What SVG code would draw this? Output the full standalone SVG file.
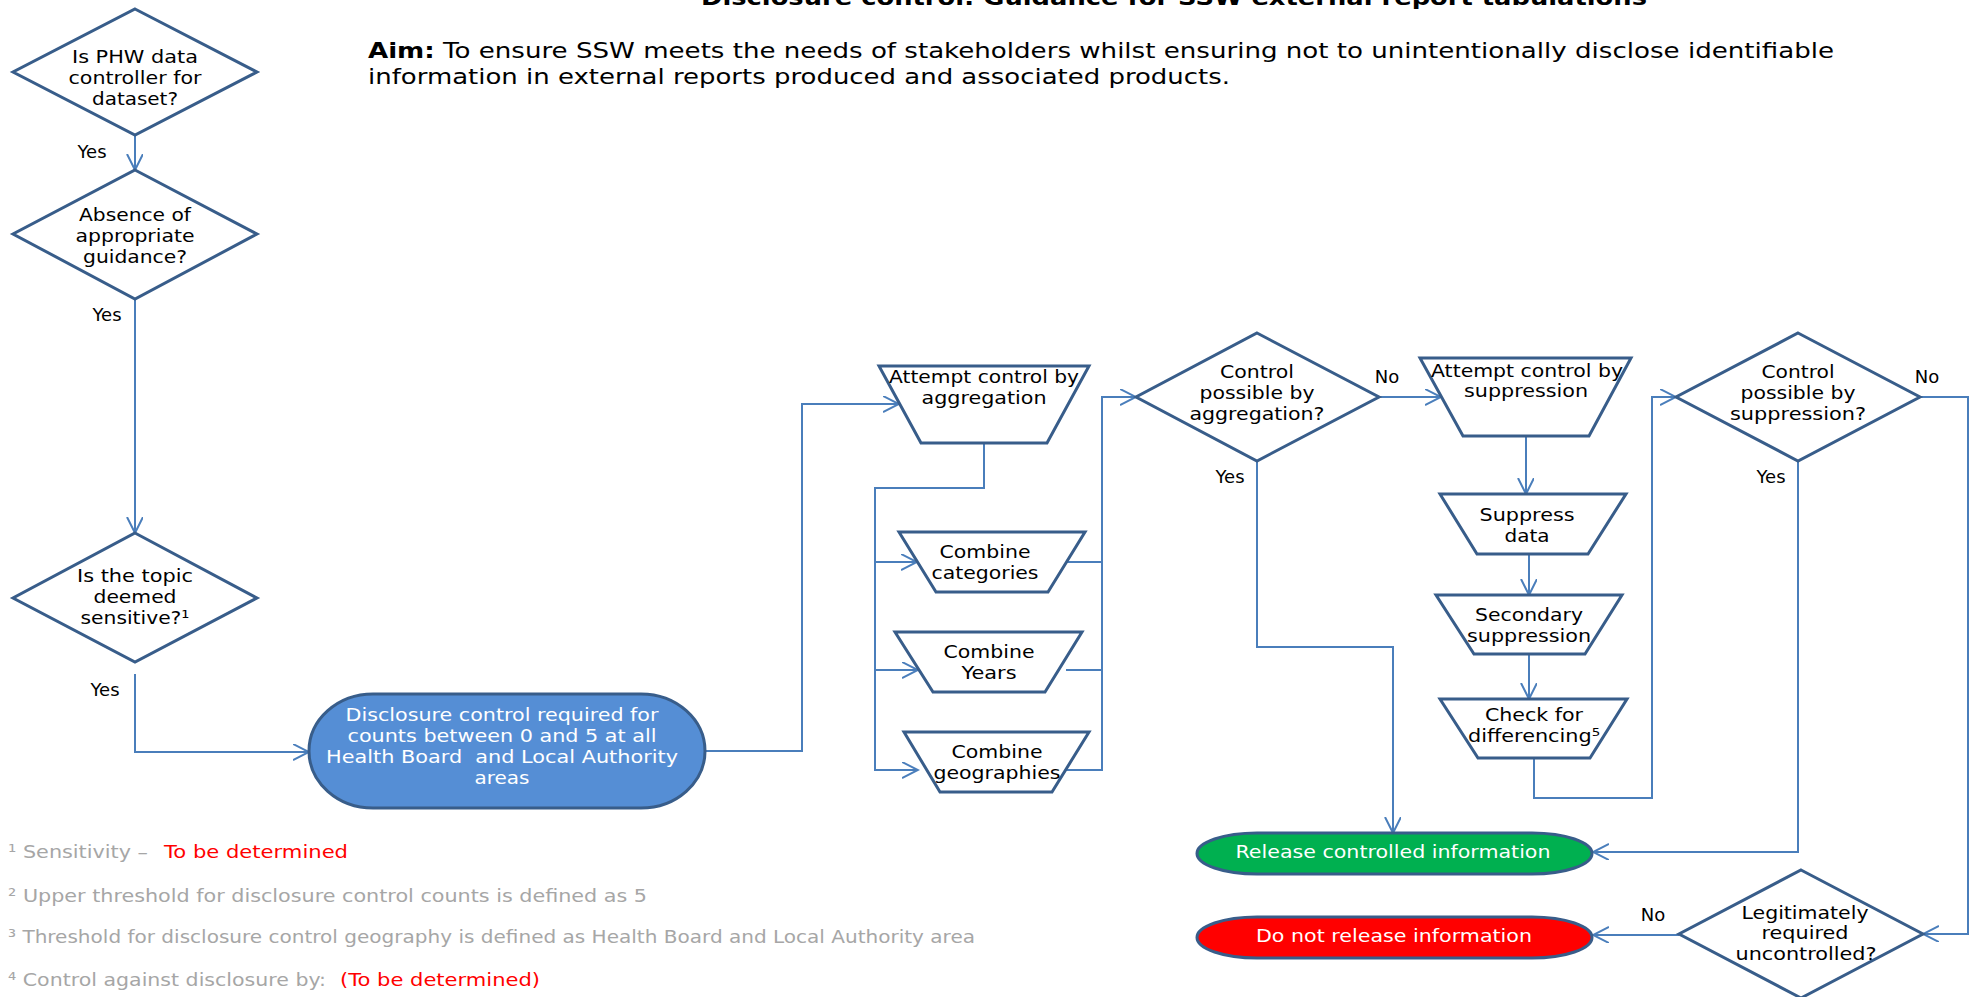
<svg xmlns="http://www.w3.org/2000/svg" width="1977" height="997" viewBox="0 0 1977 997">
  <style>
    .shape { fill: #ffffff; stroke: #385d8a; stroke-width: 3; stroke-linejoin: miter; }
    .conn { fill: none; stroke: #4a7ebb; stroke-width: 2; }
    .t { font-family: "DejaVu Sans", Verdana, sans-serif; font-size: 18px; fill: #000000; text-anchor: middle; }
    .tw { font-family: "DejaVu Sans", Verdana, sans-serif; font-size: 18px; fill: #ffffff; text-anchor: middle; }
    .lbl { font-family: "DejaVu Sans", Verdana, sans-serif; font-size: 18px; fill: #000000; text-anchor: middle; }
    .note { font-family: "DejaVu Sans", Verdana, sans-serif; font-size: 18px; fill: #a6a6a6; }
    .red { fill: #ff0000; }
    .head { font-family: "DejaVu Sans", Verdana, sans-serif; font-size: 21px; fill: #000000; }
  </style>
  <defs>
    <marker id="arrow" markerUnits="userSpaceOnUse" markerWidth="18" markerHeight="18" refX="16" refY="8" orient="auto">
      <path d="M0,0 L16,8 L0,16" fill="none" stroke="#4a7ebb" stroke-width="2"/>
    </marker>
  </defs>
  <rect x="0" y="0" width="1977" height="997" fill="#ffffff"/>

  <!-- heading and aim -->
  <g id="heading">
    <text class="head" x="701" y="5" font-weight="bold" font-size="22" textLength="946" lengthAdjust="spacingAndGlyphs">Disclosure control: Guidance for SSW external report tabulations</text>
    <text class="head" x="368" y="58" textLength="1466" lengthAdjust="spacingAndGlyphs"><tspan font-weight="bold">Aim:</tspan> To ensure SSW meets the needs of stakeholders whilst ensuring not to unintentionally disclose identifiable</text>
    <text class="head" x="368" y="84" textLength="862" lengthAdjust="spacingAndGlyphs">information in external reports produced and associated products.</text>
  </g>

  <!-- connectors -->
  <g id="connectors">
    <path class="conn" d="M135,135 V170" marker-end="url(#arrow)"/>
    <path class="conn" d="M135,299 V533" marker-end="url(#arrow)"/>
    <path class="conn" d="M135,674 V752 H309" marker-end="url(#arrow)"/>
    <path class="conn" d="M705,751 H802 V404 H899" marker-end="url(#arrow)"/>
    <path class="conn" d="M984,443 V488 H875 V770 H918" marker-end="url(#arrow)"/>
    <path class="conn" d="M875,562 H917" marker-end="url(#arrow)"/>
    <path class="conn" d="M875,670 H918" marker-end="url(#arrow)"/>
    <path class="conn" d="M1066,562 H1102"/>
    <path class="conn" d="M1066,670 H1102"/>
    <path class="conn" d="M1066,770 H1102 V397 H1136" marker-end="url(#arrow)"/>
    <path class="conn" d="M1379,397 H1441" marker-end="url(#arrow)"/>
    <path class="conn" d="M1257,461 V647 H1393 V833" marker-end="url(#arrow)"/>
    <path class="conn" d="M1526,436 V494" marker-end="url(#arrow)"/>
    <path class="conn" d="M1529,554 V595" marker-end="url(#arrow)"/>
    <path class="conn" d="M1529,654 V699" marker-end="url(#arrow)"/>
    <path class="conn" d="M1534,758 V798 H1652 V397 H1676" marker-end="url(#arrow)"/>
    <path class="conn" d="M1920,397 H1968 V934 H1923" marker-end="url(#arrow)"/>
    <path class="conn" d="M1798,461 V852 H1593" marker-end="url(#arrow)"/>
    <path class="conn" d="M1679,935 H1593" marker-end="url(#arrow)"/>
    <!-- branch labels -->
    <text class="lbl" x="92" y="158">Yes</text>
    <text class="lbl" x="107" y="321">Yes</text>
    <text class="lbl" x="105" y="696">Yes</text>
    <text class="lbl" x="1387" y="383">No</text>
    <text class="lbl" x="1230" y="483">Yes</text>
    <text class="lbl" x="1927" y="383">No</text>
    <text class="lbl" x="1771" y="483">Yes</text>
    <text class="lbl" x="1653" y="921">No</text>
  </g>

  <g id="q-controller">
    <polygon class="shape" points="135,9 257,72 135,135 13,72"/>
    <text class="t" x="135" y="63" textLength="126" lengthAdjust="spacingAndGlyphs">Is PHW data</text>
    <text class="t" x="135" y="84" textLength="133" lengthAdjust="spacingAndGlyphs">controller for</text>
    <text class="t" x="135" y="105" textLength="86" lengthAdjust="spacingAndGlyphs">dataset?</text>
  </g>

  <g id="q-guidance">
    <polygon class="shape" points="135,170 257,234 135,299 13,234"/>
    <text class="t" x="135" y="221" textLength="112" lengthAdjust="spacingAndGlyphs">Absence of</text>
    <text class="t" x="135" y="242" textLength="119" lengthAdjust="spacingAndGlyphs">appropriate</text>
    <text class="t" x="135" y="263" textLength="104" lengthAdjust="spacingAndGlyphs">guidance?</text>
  </g>

  <g id="q-sensitive">
    <polygon class="shape" points="135,533 257,598 135,662 13,598"/>
    <text class="t" x="135" y="582" textLength="116" lengthAdjust="spacingAndGlyphs">Is the topic</text>
    <text class="t" x="135" y="603" textLength="83" lengthAdjust="spacingAndGlyphs">deemed</text>
    <text class="t" x="135" y="624" textLength="109" lengthAdjust="spacingAndGlyphs">sensitive?¹</text>
  </g>

  <g id="control-required">
    <rect x="309" y="694" width="396" height="114" rx="64" ry="57" fill="#558ed5" stroke="#385d8a" stroke-width="3"/>
    <text class="tw" x="502" y="721" textLength="313" lengthAdjust="spacingAndGlyphs">Disclosure control required for</text>
    <text class="tw" x="502" y="742" textLength="309" lengthAdjust="spacingAndGlyphs">counts between 0 and 5 at all</text>
    <text class="tw" x="502" y="763" textLength="352" lengthAdjust="spacingAndGlyphs">Health Board &#160;and Local Authority</text>
    <text class="tw" x="502" y="784" textLength="55" lengthAdjust="spacingAndGlyphs">areas</text>
  </g>

  <g id="attempt-aggregation">
    <polygon class="shape" points="879,366 1089,366 1047,443 921,443"/>
    <text class="t" x="984" y="383" textLength="190" lengthAdjust="spacingAndGlyphs">Attempt control by</text>
    <text class="t" x="984" y="404" textLength="125" lengthAdjust="spacingAndGlyphs">aggregation</text>
  </g>

  <g id="combine-categories">
    <polygon class="shape" points="899,532 1085,532 1048,592 936,592"/>
    <text class="t" x="985" y="558" textLength="91" lengthAdjust="spacingAndGlyphs">Combine</text>
    <text class="t" x="985" y="579" textLength="107" lengthAdjust="spacingAndGlyphs">categories</text>
  </g>

  <g id="combine-years">
    <polygon class="shape" points="895,632 1082,632 1045,692 933,692"/>
    <text class="t" x="989" y="658" textLength="91" lengthAdjust="spacingAndGlyphs">Combine</text>
    <text class="t" x="989" y="679" textLength="55" lengthAdjust="spacingAndGlyphs">Years</text>
  </g>

  <g id="combine-geographies">
    <polygon class="shape" points="904,732 1089,732 1052,792 940,792"/>
    <text class="t" x="997" y="758" textLength="91" lengthAdjust="spacingAndGlyphs">Combine</text>
    <text class="t" x="997" y="779" textLength="127" lengthAdjust="spacingAndGlyphs">geographies</text>
  </g>

  <g id="q-aggregation">
    <polygon class="shape" points="1257,333 1379,397 1257,461 1136,397"/>
    <text class="t" x="1257" y="378" textLength="74" lengthAdjust="spacingAndGlyphs">Control</text>
    <text class="t" x="1257" y="399" textLength="115" lengthAdjust="spacingAndGlyphs">possible by</text>
    <text class="t" x="1257" y="420" textLength="135" lengthAdjust="spacingAndGlyphs">aggregation?</text>
  </g>

  <g id="attempt-suppression">
    <polygon class="shape" points="1420,358 1631,358 1589,436 1463,436"/>
    <text class="t" x="1527" y="377" textLength="192" lengthAdjust="spacingAndGlyphs">Attempt control by</text>
    <text class="t" x="1526" y="397" textLength="124" lengthAdjust="spacingAndGlyphs">suppression</text>
  </g>

  <g id="suppress-data">
    <polygon class="shape" points="1440,494 1626,494 1588,554 1477,554"/>
    <text class="t" x="1527" y="521" textLength="95" lengthAdjust="spacingAndGlyphs">Suppress</text>
    <text class="t" x="1527" y="542" textLength="45" lengthAdjust="spacingAndGlyphs">data</text>
  </g>

  <g id="secondary-suppression">
    <polygon class="shape" points="1436,595 1622,595 1585,654 1474,654"/>
    <text class="t" x="1529" y="621" textLength="108" lengthAdjust="spacingAndGlyphs">Secondary</text>
    <text class="t" x="1529" y="642" textLength="124" lengthAdjust="spacingAndGlyphs">suppression</text>
  </g>

  <g id="check-differencing">
    <polygon class="shape" points="1440,699 1627,699 1590,758 1478,758"/>
    <text class="t" x="1534" y="721" textLength="98" lengthAdjust="spacingAndGlyphs">Check for</text>
    <text class="t" x="1534" y="742" textLength="132" lengthAdjust="spacingAndGlyphs">differencing⁵</text>
  </g>

  <g id="q-suppression">
    <polygon class="shape" points="1798,333 1920,397 1798,461 1676,397"/>
    <text class="t" x="1798" y="378" textLength="73" lengthAdjust="spacingAndGlyphs">Control</text>
    <text class="t" x="1798" y="399" textLength="115" lengthAdjust="spacingAndGlyphs">possible by</text>
    <text class="t" x="1798" y="420" textLength="136" lengthAdjust="spacingAndGlyphs">suppression?</text>
  </g>

  <g id="release">
    <rect x="1197" y="833" width="395" height="41" rx="60" ry="20.5" fill="#00b050" stroke="#385d8a" stroke-width="3"/>
    <text class="tw" x="1393" y="858" textLength="315" lengthAdjust="spacingAndGlyphs">Release controlled information</text>
  </g>

  <g id="do-not-release">
    <rect x="1197" y="917" width="395" height="41" rx="60" ry="20.5" fill="#ff0000" stroke="#385d8a" stroke-width="3"/>
    <text class="tw" x="1394" y="942" textLength="276" lengthAdjust="spacingAndGlyphs">Do not release information</text>
  </g>

  <g id="q-legitimate">
    <polygon class="shape" points="1801,870 1923,934 1801,998 1679,934"/>
    <text class="t" x="1805" y="919" textLength="127" lengthAdjust="spacingAndGlyphs">Legitimately</text>
    <text class="t" x="1805" y="939" textLength="87" lengthAdjust="spacingAndGlyphs">required</text>
    <text class="t" x="1806" y="960" textLength="141" lengthAdjust="spacingAndGlyphs">uncontrolled?</text>
  </g>

  <!-- footnotes -->
  <g id="footnotes">
    <text class="note" x="8" y="858" textLength="140" lengthAdjust="spacingAndGlyphs">¹ Sensitivity –</text>
    <text class="note red" x="164" y="858" textLength="184" lengthAdjust="spacingAndGlyphs">To be determined</text>
    <text class="note" x="8" y="902" textLength="639" lengthAdjust="spacingAndGlyphs">² Upper threshold for disclosure control counts is defined as 5</text>
    <text class="note" x="8" y="943" textLength="967" lengthAdjust="spacingAndGlyphs">³ Threshold for disclosure control geography is defined as Health Board and Local Authority area</text>
    <text class="note" x="8" y="986" textLength="318" lengthAdjust="spacingAndGlyphs">⁴ Control against disclosure by:</text>
    <text class="note red" x="340" y="986" textLength="200" lengthAdjust="spacingAndGlyphs">(To be determined)</text>
  </g>
</svg>
